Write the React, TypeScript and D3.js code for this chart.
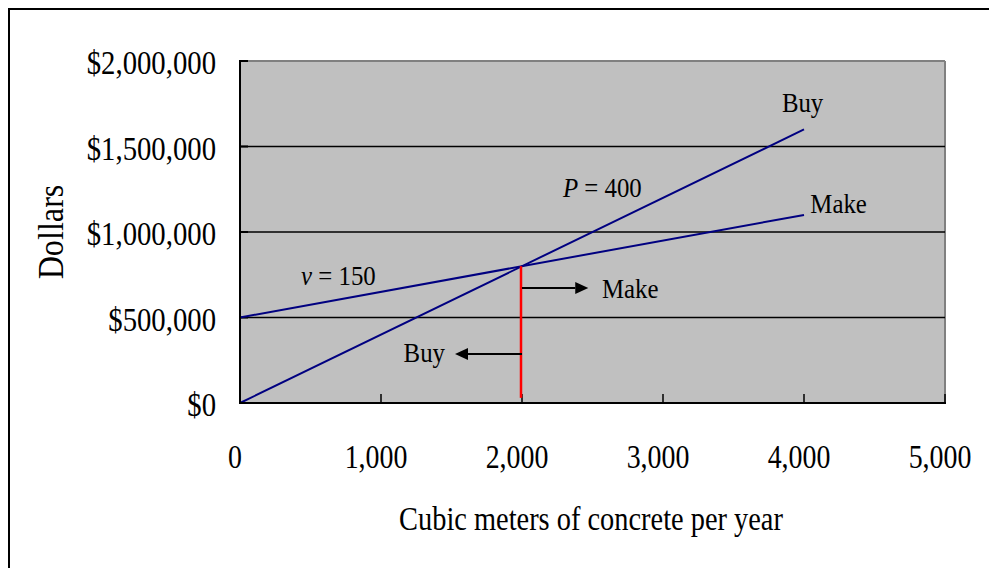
import React from "react";
import * as d3 from "d3";

const xTicks = [0, 1000, 2000, 3000, 4000, 5000];
const yTicks = [0, 500000, 1000000, 1500000, 2000000];
const lineX = [0, 4000];
const fixedCost = 500000;
const variableCost = 150;
const price = 400;
const breakEven = 2000;
const redBottom = 30000;
const makeArrow = { x1: 2000, x2: 2470, y: 672000 };
const buyArrow = { x1: 2000, x2: 1525, y: 286000 };
const labels = [
  { text: "Buy", x: 3990, y: 1700000, anchor: "middle", italic: "" },
  { text: "Make", x: 4045, y: 1110000, anchor: "start", italic: "" },
  { text: " = 400", x: 2290, y: 1205000, anchor: "start", italic: "P" },
  { text: " = 150", x: 433, y: 690000, anchor: "start", italic: "v" },
  { text: "Make", x: 2567, y: 614000, anchor: "start", italic: "" },
  { text: "Buy", x: 1454, y: 240000, anchor: "end", italic: "" },
];

const FONT = "'Liberation Serif', 'Times New Roman', serif";

function SText({ x, y, size, sx, anchor, children, rotate = 0 }: any) {
  return (
    <text
      transform={`translate(${x},${y}) rotate(${rotate}) scale(${sx},1)`}
      fontFamily={FONT}
      fontSize={size}
      textAnchor={anchor}
      fill="#000"
    >
      {children}
    </text>
  );
}

export default function App() {
  const W = 989, H = 568;
  const x = d3.scaleLinear().domain([0, 5000]).range([240, 945]);
  const y = d3.scaleLinear().domain([0, 2000000]).range([403, 61]);
  const buyLine = d3.line<number>().x((d) => x(d)).y((d) => y(price * d));
  const makeLine = d3.line<number>().x((d) => x(d)).y((d) => y(fixedCost + variableCost * d));
  const fmtY = (v: number) => "$" + d3.format(",")(v);
  const fmtX = d3.format(",");

  const arrow = (a: { x1: number; x2: number; y: number }, key: string) => {
    const dir = Math.sign(a.x2 - a.x1);
    const tip = x(a.x2);
    const yy = y(a.y);
    const head = 13;
    return (
      <g key={key}>
        <line x1={x(a.x1)} x2={tip - dir * head} y1={yy} y2={yy} stroke="#000" strokeWidth={2} />
        <path d={`M${tip},${yy} L${tip - dir * head},${yy - 6} L${tip - dir * head},${yy + 6} Z`} fill="#000" />
      </g>
    );
  };

  return (
    <svg width={W} height={H} style={{ position: "absolute", left: 0, top: 0, background: "#fff" }}>
      <rect x={9} y={9} width={1000} height={600} fill="#fff" stroke="#000" strokeWidth={2} />
      <rect x={x(0)} y={y(2000000)} width={x(5000) - x(0)} height={y(0) - y(2000000)} fill="#C0C0C0" />
      <line x1={x(0)} x2={x(5000)} y1={y(2000000)} y2={y(2000000)} stroke="#808080" strokeWidth={2} />
      <line x1={x(5000)} x2={x(5000)} y1={y(2000000)} y2={y(0)} stroke="#808080" strokeWidth={2} />
      {yTicks.filter((t) => t > 0 && t < 2000000).map((t) => (
        <line key={t} x1={x(0)} x2={x(5000)} y1={y(t)} y2={y(t)} stroke="#000" strokeWidth={1.5} />
      ))}
      {yTicks.map((t) => (
        <line key={"yt" + t} x1={x(0)} x2={x(0) + 8} y1={y(t)} y2={y(t)} stroke="#000" strokeWidth={2} />
      ))}
      {xTicks.map((t) => (
        <line key={"xt" + t} x1={x(t)} x2={x(t)} y1={y(0)} y2={y(0) - 9} stroke="#000" strokeWidth={1.5} />
      ))}
      <path d={makeLine(lineX) || ""} fill="none" stroke="#000080" strokeWidth={2} />
      <path d={buyLine(lineX) || ""} fill="none" stroke="#000080" strokeWidth={2} />
      <line x1={x(breakEven) - 1} x2={x(breakEven) - 1} y1={y(price * breakEven)} y2={y(redBottom)} stroke="#FF0000" strokeWidth={2.5} />
      {arrow(makeArrow, "ma")}
      {arrow(buyArrow, "ba")}
      <line x1={x(0)} x2={x(0)} y1={y(2000000) - 1} y2={y(0) + 1} stroke="#000" strokeWidth={2} />
      <line x1={x(0) - 1} x2={x(5000) + 1} y1={y(0)} y2={y(0)} stroke="#000" strokeWidth={2} />
      {yTicks.map((t) => (
        <SText key={"yl" + t} x={216} y={y(t) + 13} size={34} sx={0.845} anchor="end">{fmtY(t)}</SText>
      ))}
      {xTicks.map((t) => (
        <SText key={"xl" + t} x={x(t) - 5} y={y(0) + 65} size={34} sx={0.82} anchor="middle">{fmtX(t)}</SText>
      ))}
      <SText x={591} y={530} size={34} sx={0.835} anchor="middle">Cubic meters of concrete per year</SText>
      <SText x={63} y={232} size={35} sx={0.92} anchor="middle" rotate={-90}>Dollars</SText>
      {labels.map((l, i) => (
        <SText key={"lb" + i} x={x(l.x)} y={y(l.y)} size={27} sx={0.92} anchor={l.anchor}>
          {l.italic ? <tspan fontStyle="italic">{l.italic}</tspan> : null}
          {l.text}
        </SText>
      ))}
    </svg>
  );
}
